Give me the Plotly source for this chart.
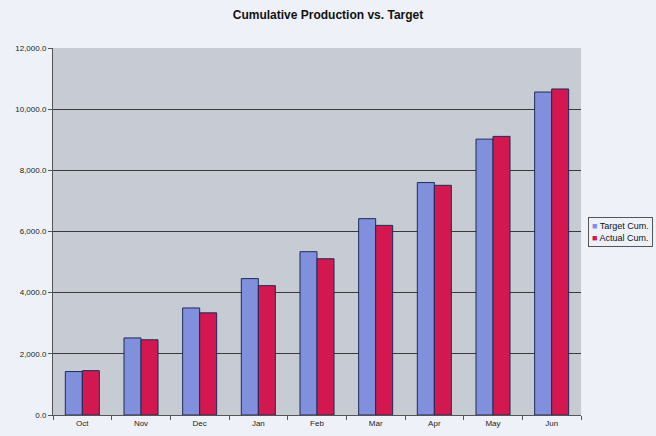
import plotly.graph_objects as go

months = ["Oct", "Nov", "Dec", "Jan", "Feb", "Mar", "Apr", "May", "Jun"]
target_cum = [1420, 2520, 3500, 4460, 5340, 6420, 7600, 9020, 10560]
actual_cum = [1450, 2460, 3340, 4230, 5110, 6200, 7510, 9110, 10660]
series_names = ["Target Cum.", "Actual Cum."]
series_colors = ["#8190dc", "#d2184e"]

fig = go.Figure()
for name, vals, col in zip(series_names, [target_cum, actual_cum], series_colors):
    fig.add_trace(go.Bar(x=months, y=vals, name=name,
                         marker=dict(color=col, line=dict(color="#1e2a5a", width=1))))

legend_text = "<br>".join(
    f"<span style='color:{c}'>■</span> {n}" for n, c in zip(series_names, series_colors)
)
fig.add_annotation(
    text=legend_text, xref="paper", yref="paper", x=1.013, y=0.5,
    xanchor="left", yanchor="middle", align="left", showarrow=False,
    font=dict(size=9, color="#111111", family="Liberation Sans, Arial, sans-serif"),
    bgcolor="#eef2f8", bordercolor="#555555", borderwidth=1, borderpad=3,
)

fig.update_layout(
    width=656, height=436,
    margin=dict(l=53, r=75, t=48, b=21, autoexpand=False),
    paper_bgcolor="#eef2f8",
    plot_bgcolor="#c7cbd3",
    font=dict(family="Liberation Sans, Arial, sans-serif", size=8, color="#222222"),
    title=dict(text="<b>Cumulative Production vs. Target</b>", x=0.5, xanchor="center",
               y=0.965, yanchor="middle", font=dict(size=12, color="#111111")),
    barmode="group", bargap=0.42, bargroupgap=0,
    showlegend=False,
    xaxis=dict(showline=True, linecolor="#555555", linewidth=1,
               ticks="outside", ticklen=4, tickcolor="#555555", tickson="boundaries",
               showgrid=False, tickfont=dict(size=8)),
    yaxis=dict(range=[0, 12000], dtick=2000, tickformat=",.1f",
               showline=True, linecolor="#555555", linewidth=1,
               ticks="outside", ticklen=4, tickcolor="#555555",
               showgrid=True, gridcolor="#3a3a3a", gridwidth=1,
               zeroline=False, tickfont=dict(size=8)),
)

fig.write_html("out.html")
